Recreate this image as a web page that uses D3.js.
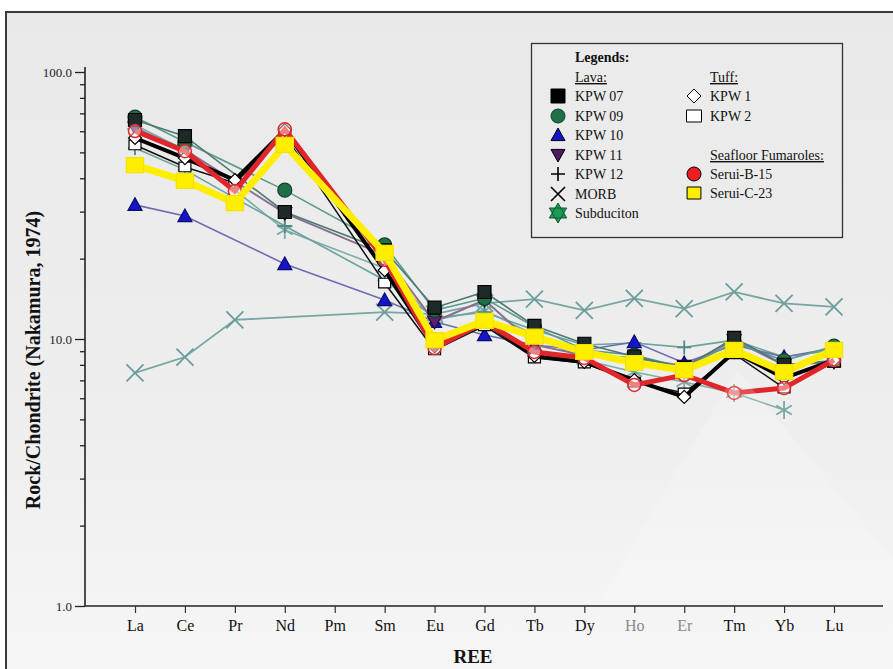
<!DOCTYPE html>
<html>
<head>
<meta charset="utf-8">
<script src="https://cdn.jsdelivr.net/npm/d3@7"></script>
<style>
  body { margin: 0; background: #fff; }
  svg { display: block; }
</style>
</head>
<body>
<script>
// categories and ticks
const ree = ["La", "Ce", "Pr", "Nd", "Pm", "Sm", "Eu", "Gd", "Tb", "Dy", "Ho", "Er", "Tm", "Yb", "Lu"];
const greyLabels = ["Ho", "Er"];
const yMajor = [1, 10, 100];

// chondrite-normalised values, one per REE (null = not plotted)
const morb = [7.46, 8.56, 11.8, null, null, 12.6, 12.4, 13.6, 14.1, 12.8, 14.2, 13.0, 15.0, 13.6, 13.2];
const subduction = [63.3, 51.1, null, 25.6, null, 18.4, 11.8, 12.8, 10.35, 8.34, 7.52, 6.9, 6.28, 5.42, null];
const kpw12 = [51.9, 43.0, null, 26.5, null, 16.6, 12.0, 12.6, 10.8, 9.5, 9.66, 9.3, 9.9, 8.56, 9.1];
const kpw11 = [61.7, 51.1, null, 29.6, null, 20.6, 11.6, 14.0, 9.5, 8.7, 8.49, 7.92, 9.9, 7.99, 8.2];
const kpw10 = [31.8, 28.9, null, 19.1, null, 14.0, 11.6, 10.35, 9.5, 9.1, 9.74, 8.13, 9.5, 8.56, 9.25];
const kpw09 = [67.8, 54.7, null, 36.1, null, 22.5, 12.8, 14.2, 11.1, 9.1, 8.7, 7.8, 9.7, 8.3, 9.4];
const kpw07 = [66.1, 57.5, null, 29.9, null, 21.5, 13.1, 15.0, 11.2, 9.6, 8.6, 7.8, 10.1, 8.0, 8.3];
const kpw2 = [53.3, 44.1, 38.4, 58.0, null, 16.2, 9.1, 11.2, 8.49, 8.13, 6.9, 6.28, 8.8, 6.55, 8.2];
const kpw1 = [56.6, 47.6, 39.4, 60.6, null, 18.1, 9.4, 11.6, 8.64, 8.2, 7.02, 6.07, 8.94, 7.14, 8.34];
const seruiB15 = [60.1, 50.5, 35.8, 61.0, null, 19.8, 9.25, 11.6, 8.94, 8.49, 6.73, 7.33, 6.28, 6.55, 8.34];
const seruiC23 = [44.8, 39.1, 32.3, 53.3, null, 21.0, 9.9, 11.7, 10.2, 8.94, 8.13, 7.65, 9.1, 7.52, 9.1];

// drawing order: thin lava lines first, thick tuff / fumarole lines on top
const series = [
    { name: "MORB", values: morb, marker: "times", fill: "none", stroke: "#6a9e9c", line: "#76a6a4", lw: 1.8 },
    { name: "Subduciton", values: subduction, marker: "asterisk", fill: "none", stroke: "#79aaa6", line: "#7eaeaa", lw: 1.6 },
    { name: "KPW 12", values: kpw12, marker: "plus", fill: "none", stroke: "#4f8a86", line: "#6aa29e", lw: 1.6 },
    { name: "KPW 10", values: kpw10, marker: "triangle", fill: "#1515c8", stroke: "#0a0a70", line: "#6c6cb0", lw: 1.6 },
    { name: "KPW 11", values: kpw11, marker: "triangleDown", fill: "#5a2070", stroke: "#2a0a35", line: "#8a7090", lw: 2 },
    { name: "KPW 09", values: kpw09, marker: "circle", fill: "#1f7048", stroke: "#0f3f25", line: "#5e9a8a", lw: 1.6 },
    { name: "KPW 07", values: kpw07, marker: "square", fill: "#1d2a28", stroke: "#000", line: "#4d7a74", lw: 1.6 },
    { name: "KPW 2", values: kpw2, marker: "rect", fill: "#fff", stroke: "#000", line: "#111", lw: 1.5 },
    { name: "KPW 1", values: kpw1, marker: "diamond", fill: "#fff", stroke: "#000", line: "#000", lw: 4 },
    { name: "Serui-B-15", values: seruiB15, marker: "ring", fill: "rgba(255,240,240,0.45)", stroke: "#e0262a", line: "#e0262a", lw: 5 },
    { name: "Serui-C-23", values: seruiC23, marker: "yellow", fill: "#ffee00", stroke: "#ffe800", line: "#ffee00", lw: 7 }
];

const W = 893, H = 669;
const margin = { top: 72, right: 59, bottom: 63, left: 85 };
const serif = "'Liberation Serif', 'Times New Roman', serif";

const svg = d3.select("body").append("svg")
    .attr("width", W)
    .attr("height", H)
    .attr("font-family", serif);

// background panel with soft gradient
const grad = svg.append("defs").append("linearGradient")
    .attr("id", "bg").attr("x1", 0).attr("y1", 0).attr("x2", 0).attr("y2", 1);
grad.append("stop").attr("offset", "0%").attr("stop-color", "#e9e9e9");
grad.append("stop").attr("offset", "60%").attr("stop-color", "#eeeeee");
grad.append("stop").attr("offset", "100%").attr("stop-color", "#f6f6f6");

svg.append("rect")
    .attr("x", 6).attr("y", 12)
    .attr("width", W).attr("height", H)
    .attr("fill", "url(#bg)")
    .attr("stroke", "#3a3a3a")
    .attr("stroke-width", 2);

// scales
const x = d3.scalePoint()
    .domain(ree)
    .range([135, 834]);
const y = d3.scaleLog()
    .domain([1, 100])
    .range([H - margin.bottom, margin.top]);

// y axis: minor ticks then major ticks with labels
const minor = [];
for (const d of [1, 10]) for (let k = 2; k <= 9; k++) minor.push(d * k);

svg.append("g")
    .attr("transform", `translate(${margin.left},0)`)
    .call(d3.axisLeft(y).tickValues(minor).tickSize(5).tickFormat(""))
    .call(g => g.select(".domain").remove())
    .call(g => g.selectAll("line").attr("stroke", "#222").attr("stroke-width", 1.3));

svg.append("g")
    .attr("transform", `translate(${margin.left},0)`)
    .call(d3.axisLeft(y).tickValues(yMajor).tickSize(10).tickPadding(3).tickFormat(d3.format(".1f")))
    .call(g => g.select(".domain").attr("stroke", "#222").attr("stroke-width", 1.6)
        .attr("d", `M0,${y(1)}V${y(100) - 5}`))
    .call(g => g.selectAll("line").attr("stroke", "#222").attr("stroke-width", 1.3))
    .call(g => g.selectAll("text")
        .attr("font-size", 13)
        .attr("fill", "#222"));

// x axis
svg.append("g")
    .attr("transform", `translate(0,${y(1)})`)
    .call(d3.axisBottom(x).tickSize(7).tickPadding(7))
    .call(g => g.select(".domain").attr("stroke", "#222").attr("stroke-width", 1.6)
        .attr("d", `M${margin.left},0H${W - 10}`))
    .call(g => g.selectAll("line").attr("stroke", "#333").attr("stroke-width", 1.2))
    .call(g => g.selectAll("text")
        .attr("font-size", 16)
        .attr("fill", d => greyLabels.includes(d) ? "#8a8a8a" : "#111"));

// axis titles
svg.append("text")
    .attr("x", 473).attr("y", 663)
    .attr("text-anchor", "middle")
    .attr("font-size", 19).attr("font-weight", "bold")
    .attr("fill", "#111")
    .text("REE");
svg.append("text")
    .attr("transform", "translate(40,360) rotate(-90)")
    .attr("text-anchor", "middle")
    .attr("font-size", 20).attr("font-weight", "bold")
    .attr("fill", "#111")
    .text("Rock/Chondrite (Nakamura, 1974)");

// marker shapes
function markerPath(type, s) {
    const h = s / 2;
    switch (type) {
        case "square": return `M${-h},${-h}H${h}V${h}H${-h}Z`;
        case "rect": return `M${-h},${-h * 0.8}H${h}V${h * 0.8}H${-h}Z`;
        case "yellow": return `M${-h * 1.15},${-h}H${h * 1.15}V${h}H${-h * 1.15}Z`;
        case "circle":
        case "ring": return d3.symbol(d3.symbolCircle, Math.PI * h * h)();
        case "triangle": return `M0,${-h}L${h},${h * 0.8}H${-h}Z`;
        case "triangleDown": return `M0,${h}L${h},${-h * 0.8}H${-h}Z`;
        case "diamond": return `M0,${-h}L${h},0L0,${h}L${-h},0Z`;
        case "plus": return `M${-h},0H${h}M0,${-h}V${h}`;
        case "times": return `M${-h},${-h}L${h},${h}M${h},${-h}L${-h},${h}`;
        case "asterisk": {
            let p = "";
            for (let k = 0; k < 3; k++) {
                const a = Math.PI / 2 + k * Math.PI / 3;
                p += `M${h * Math.cos(a)},${-h * Math.sin(a)}L${-h * Math.cos(a)},${h * Math.sin(a)}`;
            }
            return p;
        }
        case "star6": {
            const t = (rot) => {
                const pts = d3.range(3).map(k => {
                    const a = rot + k * 2 * Math.PI / 3;
                    return [h * Math.sin(a), -h * Math.cos(a)];
                });
                return "M" + pts.map(p => p.join(",")).join("L") + "Z";
            };
            return t(0) + t(Math.PI);
        }
    }
}

const sizes = { square: 13, rect: 12, yellow: 15, circle: 14, ring: 13, triangle: 14, triangleDown: 14,
    diamond: 13, plus: 14, times: 17, asterisk: 18, star6: 18 };

const line = d3.line()
    .x(d => x(d.ree))
    .y(d => y(d.v));

const plot = svg.append("g").attr("id", "series");

series.forEach(s => {
    const pts = ree.map((r, i) => ({ ree: r, v: s.values[i] })).filter(d => d.v != null);
    const g = plot.append("g").attr("class", "series");
    g.append("path")
        .datum(pts)
        .attr("fill", "none")
        .attr("stroke", s.line)
        .attr("stroke-width", s.lw)
        .attr("stroke-linejoin", "miter")
        .attr("d", line);
    g.selectAll("path.pt")
        .data(pts)
        .join("path")
        .attr("class", "pt")
        .attr("transform", d => `translate(${x(d.ree)},${y(d.v)})`)
        .attr("d", markerPath(s.marker, sizes[s.marker]))
        .attr("fill", s.fill)
        .attr("stroke", s.marker === "yellow" ? "#f3e200" : s.stroke)
        .attr("stroke-width", s.fill === "none" ? 1.8 : (s.marker === "ring" ? 1.5 : 1.2));
});

// faint watermark wedge laid over the lower right of the plot
svg.append("path")
    .attr("d", "M737,370L600,600H893V560Z")
    .attr("fill", "#ffffff")
    .attr("opacity", 0.18)
    .attr("pointer-events", "none");

// legend
const legendLava = [
    { name: "KPW 07", marker: "square", fill: "#000", stroke: "#000" },
    { name: "KPW 09", marker: "circle", fill: "#1f7048", stroke: "#0f3f25" },
    { name: "KPW 10", marker: "triangle", fill: "#1515c8", stroke: "#000" },
    { name: "KPW 11", marker: "triangleDown", fill: "#4e1a60", stroke: "#000" },
    { name: "KPW 12", marker: "plus", fill: "none", stroke: "#000" },
    { name: "MORB", marker: "times", fill: "none", stroke: "#000" },
    { name: "Subduciton", marker: "star6", fill: "#1f9a55", stroke: "#0d5a30" }
];
const legendTuff = [
    { name: "KPW 1", marker: "diamond", fill: "#fff", stroke: "#000" },
    { name: "KPW 2", marker: "rect", fill: "#fff", stroke: "#000" }
];
const legendFum = [
    { name: "Serui-B-15", marker: "circle", fill: "#ee1c24", stroke: "#000" },
    { name: "Serui-C-23", marker: "yellow", fill: "#ffee00", stroke: "#000" }
];

const lg = svg.append("g").attr("id", "legend");
lg.append("rect")
    .attr("x", 531.5).attr("y", 43.5)
    .attr("width", 311).attr("height", 194)
    .attr("fill", "#ebebeb")
    .attr("stroke", "#333")
    .attr("stroke-width", 1.3);

const head = (tx, ty, t, bold, underline) => lg.append("text")
    .attr("x", tx).attr("y", ty)
    .attr("font-size", 14)
    .attr("font-weight", bold ? "bold" : "normal")
    .style("text-decoration", underline ? "underline" : "none")
    .attr("fill", "#111")
    .text(t);

head(575, 62, "Legends:", true, false);
head(575, 82, "Lava:", false, true);
head(710, 82, "Tuff:", false, true);
head(710, 160, "Seafloor Fumaroles:", false, true);

const legendRows = (items, sx, tx, ys) => items.forEach((it, i) => {
    const ry = ys[i];
    const sz = it.marker === "yellow" ? 12 : (it.marker === "rect" ? 15 : (it.marker === "star6" ? 20 : 14));
    lg.append("path")
        .attr("transform", `translate(${sx},${ry})`)
        .attr("d", markerPath(it.marker, sz))
        .attr("fill", it.fill)
        .attr("stroke", it.stroke)
        .attr("stroke-width", it.fill === "none" ? 1.6 : 1);
    lg.append("text")
        .attr("x", tx).attr("y", ry + 5)
        .attr("font-size", 14)
        .attr("fill", "#111")
        .text(it.name);
});

legendRows(legendLava, 558, 575, [96, 116, 135, 155, 174, 194, 213]);
legendRows(legendTuff, 694, 710, [96, 116]);
legendRows(legendFum, 694, 710, [174, 193]);

// every label in the serif face of the original
svg.selectAll("text").attr("font-family", serif);
</script>
</body>
</html>
